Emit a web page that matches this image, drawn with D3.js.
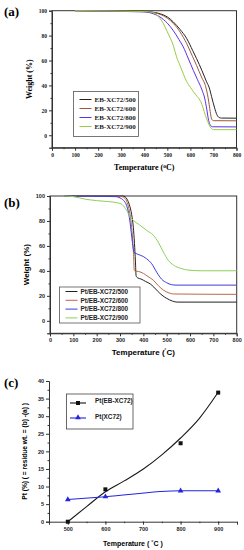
<!DOCTYPE html>
<html>
<head>
<meta charset="utf-8">
<script src="https://cdn.jsdelivr.net/npm/d3@7"></script>
<style>
  body { margin: 0; background: #fff; }
</style>
</head>
<body>
<script>
// ---- panel (a): EB-XC72 TGA ----
const aNames = ['EB-XC72/500', 'EB-XC72/600', 'EB-XC72/800', 'EB-XC72/900'];
const a500 = [[100,100],[400,99.4],[450,98.4],[470,97.5],[500,95],[526,91],[555,85],[584,77.7],[610,68],[627,61.5],[650,52],[670,43],[682,38],[692,31],[705,22],[715,16.5],[725,14.2],[735,13.8],[800,13.7]];
const a600 = [[100,100],[400,99.3],[450,98.1],[500,94],[526,89.8],[555,83],[584,73.6],[610,63],[627,56],[650,46],[665,40],[677,30],[686,19],[692,13],[700,11.7],[800,11.6]];
const a800 = [[100,100],[400,99],[440,97.5],[468,95],[500,90],[526,84],[550,77],[569,71],[590,62],[613,52],[630,45],[649,37],[663,29],[671,21],[679,12],[687,8],[695,6.8],[800,6.7]];
const a900 = [[100,100],[400,99.3],[439,98.5],[460,95.5],[482,90],[500,83],[526,72],[540,63],[555,56],[570,49],[584,43],[600,38.5],[613,35],[630,31],[645,27],[655,22],[665,16],[675,11],[685,7],[695,4.8],[700,4.5],[800,4.5]];

// ---- panel (b): Pt/EB-XC72 TGA ----
const bNames = ['Pt/EB-XC72/500', 'Pt/EB-XC72/600', 'Pt/EB-XC72/800', 'Pt/EB-XC72/900'];
const b500 = [[60,100],[310,100],[322,99.3],[330,97.5],[340,93],[350,85],[357,75],[362,62],[366,48],[369,36],[375,34.5],[390,33.5],[410,31.5],[430,29.5],[445,27],[460,24],[480,20.5],[500,18],[525,15.8],[545,15],[800,15]];
const b600 = [[60,100],[300,99.8],[315,99],[328,96],[338,90],[347,80],[353,68],[358,53],[361,40.5],[365,39.8],[380,39.5],[400,38],[420,35.5],[443,32.5],[465,28],[486,24.6],[510,22.3],[530,21.5],[800,21.2]];
const b800 = [[60,100],[280,99.5],[300,98.5],[315,96.5],[328,92.5],[337,86],[343,79],[353,63],[360,55],[378,53.2],[400,51.5],[414,49.7],[436,45.7],[457,39],[479,33.2],[500,30.5],[520,29],[540,28.6],[800,28.6]];
const b900 = [[60,100],[100,99.5],[150,97.5],[200,96.3],[250,95.5],[290,94.5],[310,93],[328,88.5],[345,83],[357,80.5],[386,76.5],[414,72.5],[443,68.5],[464,63],[486,55],[507,48.4],[530,44.5],[560,42],[600,40.5],[650,40.1],[800,40.1]];

// ---- panel (c): Pt content ----
const cTemps = [500, 600, 800, 900];
const cEB = [0, 9.2, 22.3, 36.7];
const cXC = [6.3, 7.1, 8.8, 8.8];
const fitTemps = [500, 550, 600, 650, 700, 750, 800, 850, 900];
const fitVals = [0, 4.3, 8.5, 11.6, 14.9, 19, 23.8, 29.4, 36.8];

const colorsA = ['#222222', '#a0583a', '#5a30e8', '#9acd40'];
const colorsB = ['#222222', '#b86a48', '#3c3cdc', '#8ed05a'];

const SERIF = '"Liberation Serif", "Times New Roman", serif';
const SANS = '"Liberation Sans", Arial, sans-serif';

const W = 244, H = 550;
const svg = d3.select('body').append('svg')
  .attr('width', W)
  .attr('height', H)
  .style('font-family', SANS);

svg.append('rect').attr('width', W).attr('height', H).attr('fill', '#fff');

function ticks(g, axis, major, labelFont, fontSize) {
  g.call(axis.tickValues(major).tickSize(3).tickPadding(2));
  g.selectAll('path.domain').attr('stroke', '#333');
  g.selectAll('.tick line').attr('stroke', '#333');
  g.selectAll('text')
    .style('font-family', labelFont)
    .style('font-size', fontSize + 'px')
    .style('font-weight', 'bold')
    .attr('fill', '#222');
}

function minor(g, axis) {
  g.call(axis.tickSize(1.5).tickFormat(''))
    .call(s => s.select('.domain').remove())
    .selectAll('line').attr('stroke', '#333');
}

function tgaPanel(o) {
  const x = d3.scaleLinear().domain([0, 800]).range([o.left, o.right]);
  const y = d3.scaleLinear().domain([-10, 100]).range([o.bottom, o.top]);
  const g = svg.append('g');

  minor(g.append('g').attr('transform', `translate(0,${o.bottom})`),
    d3.axisBottom(x).tickValues(d3.range(50, 800, 100)));
  minor(g.append('g').attr('transform', `translate(${o.left},0)`),
    d3.axisLeft(y).tickValues(d3.range(-10, 100, 20)));

  ticks(g.append('g').attr('transform', `translate(0,${o.bottom})`),
    d3.axisBottom(x), d3.range(0, 801, 100), o.font, 5.5);
  ticks(g.append('g').attr('transform', `translate(${o.left},0)`),
    d3.axisLeft(y), d3.range(0, 101, 20), o.font, 5.5);

  // frame
  g.append('rect')
    .attr('x', o.left).attr('y', o.top)
    .attr('width', o.right - o.left).attr('height', o.bottom - o.top)
    .attr('fill', 'none').attr('stroke', '#333').attr('stroke-width', 1);

  const line = d3.line()
    .x(d => x(d[0]))
    .y(d => y(d[1]))
    .curve(d3.curveMonotoneX);

  o.series.forEach((s, i) => {
    g.append('path')
      .datum(s)
      .attr('fill', 'none')
      .attr('stroke', o.colors[i])
      .attr('stroke-width', 1)
      .attr('d', line);
  });

  // legend
  const L = o.legend;
  g.append('rect')
    .attr('x', L.x).attr('y', L.y).attr('width', L.w).attr('height', L.h)
    .attr('fill', '#fff').attr('stroke', '#555').attr('stroke-width', 0.8);
  o.names.forEach((n, i) => {
    const yy = L.y + L.row0 + i * L.step;
    g.append('line')
      .attr('x1', L.x + 6).attr('x2', L.x + 18)
      .attr('y1', yy).attr('y2', yy)
      .attr('stroke', o.colors[i]).attr('stroke-width', 1);
    g.append('text')
      .attr('x', L.x + 21).attr('y', yy + 2.3)
      .style('font-family', o.font)
      .style('font-size', L.fs + 'px')
      .style('font-weight', 'bold')
      .attr('fill', '#222')
      .text(n);
  });

  // titles
  g.append('text')
    .attr('transform', `translate(${o.yTitleX},${(o.top + o.bottom) / 2}) rotate(-90)`)
    .attr('text-anchor', 'middle')
    .style('font-family', o.font).style('font-size', '8px').style('font-weight', 'bold')
    .text('Weight (%)');
  const xt = g.append('text')
    .attr('x', (o.left + o.right) / 2).attr('y', o.xTitleY)
    .attr('text-anchor', 'middle')
    .style('font-family', o.font).style('font-size', '8px').style('font-weight', 'bold');
  xt.append('tspan').text('Temperature (');
  xt.append('tspan').attr('dy', -2.5).style('font-size', '5.5px').text(o.deg);
  xt.append('tspan').attr('dy', 2.5).text('C)');

  g.append('text')
    .attr('x', 4).attr('y', o.labelY)
    .style('font-family', SERIF)
    .style('font-size', '13px').style('font-weight', 'bold')
    .text(o.label);
}

tgaPanel({
  left: 52, right: 236.5, top: 10.7, bottom: 147.7,
  series: [a500, a600, a800, a900], names: aNames, colors: colorsA,
  font: SERIF,
  legend: { x: 73.5, y: 91.5, w: 65, h: 45, row0: 8, step: 9, fs: 7 },
  yTitleX: 32, xTitleY: 170, deg: 'o', label: '(a)', labelY: 16
});

tgaPanel({
  left: 50, right: 236.7, top: 196, bottom: 333.3,
  series: [b500, b600, b800, b900], names: bNames, colors: colorsB,
  font: SANS,
  legend: { x: 59.5, y: 287, w: 80.5, h: 36, row0: 4.5, step: 8.8, fs: 6.4 },
  yTitleX: 29, xTitleY: 355, deg: '\u02da', label: '(b)', labelY: 207
});

// ---- panel (c) ----
{
  const left = 49, right = 237, top = 381, bottom = 521.7;
  const x = d3.scaleLinear().domain([450, 950]).range([left, right]);
  const y = d3.scaleLinear().domain([0, 40]).range([bottom, top]);
  const g = svg.append('g');

  minor(g.append('g').attr('transform', `translate(0,${bottom})`),
    d3.axisBottom(x).tickValues(d3.range(450, 951, 50)));
  minor(g.append('g').attr('transform', `translate(${left},0)`),
    d3.axisLeft(y).tickValues(d3.range(2.5, 40, 5)));

  ticks(g.append('g').attr('transform', `translate(0,${bottom})`),
    d3.axisBottom(x), d3.range(500, 901, 100), SANS, 5.5);
  ticks(g.append('g').attr('transform', `translate(${left},0)`),
    d3.axisLeft(y), d3.range(0, 41, 5), SANS, 5.5);

  const fitLine = d3.line().x(d => x(d[0])).y(d => y(d[1])).curve(d3.curveMonotoneX);
  g.append('path')
    .datum(fitTemps.map((t, i) => [t, fitVals[i]]))
    .attr('fill', 'none').attr('stroke', '#1a1a1a').attr('stroke-width', 1.1)
    .attr('d', fitLine);
  g.append('path')
    .datum(cTemps.map((t, i) => [t, cXC[i]]))
    .attr('fill', 'none').attr('stroke', '#2424e0').attr('stroke-width', 1.1)
    .attr('d', fitLine);

  g.selectAll('.sq').data(cTemps).enter().append('rect')
    .attr('x', d => x(d) - 2).attr('y', (d, i) => y(cEB[i]) - 2)
    .attr('width', 4).attr('height', 4).attr('fill', '#111');
  const tri = d3.symbol().type(d3.symbolTriangle).size(14);
  g.selectAll('.tri').data(cTemps).enter().append('path')
    .attr('d', tri)
    .attr('transform', (d, i) => `translate(${x(d)},${y(cXC[i])})`)
    .attr('fill', '#2424e0');

  // legend
  g.append('rect')
    .attr('x', 66.5).attr('y', 394).attr('width', 66.5).attr('height', 35)
    .attr('fill', '#fff').attr('stroke', '#444').attr('stroke-width', 0.8);
  g.append('line').attr('x1', 70).attr('x2', 86).attr('y1', 403).attr('y2', 403)
    .attr('stroke', '#111').attr('stroke-width', 1.1);
  g.append('rect').attr('x', 76).attr('y', 401).attr('width', 4).attr('height', 4).attr('fill', '#111');
  g.append('line').attr('x1', 70).attr('x2', 86).attr('y1', 418).attr('y2', 418)
    .attr('stroke', '#2424e0').attr('stroke-width', 1.1);
  g.append('path').attr('d', tri).attr('transform', 'translate(78,417.5)').attr('fill', '#2424e0');
  [['Pt(EB-XC72)', 403], ['Pt(XC72)', 418.5]].forEach(([t, yy]) => {
    g.append('text').attr('x', 95).attr('y', yy)
      .style('font-family', SANS).style('font-size', '6.4px').style('font-weight', 'bold')
      .attr('fill', '#222').text(t);
  });

  g.append('text')
    .attr('transform', `translate(27,${(top + bottom) / 2}) rotate(-90)`)
    .attr('text-anchor', 'middle')
    .style('font-family', SANS).style('font-size', '6.6px').style('font-weight', 'bold')
    .text('Pt (%) ( = residue wt. = (b) -(a) )');
  g.append('text')
    .attr('x', 133).attr('y', 545.5)
    .attr('text-anchor', 'middle')
    .style('font-family', SANS).style('font-size', '7px').style('font-weight', 'bold')
    .text('Temperature ( \u02daC )');

  g.append('text')
    .attr('x', 4).attr('y', 387)
    .style('font-family', SERIF)
    .style('font-size', '13px').style('font-weight', 'bold')
    .text('(c)');
}
</script>
</body>
</html>
